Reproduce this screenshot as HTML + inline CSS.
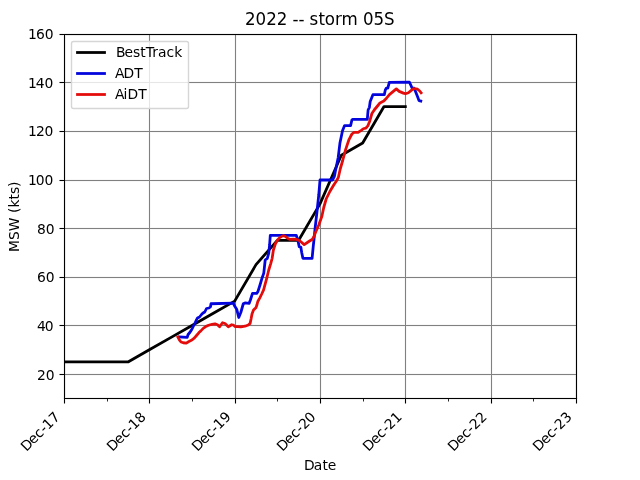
<!DOCTYPE html>
<html><head><meta charset="utf-8"><style>html,body{margin:0;padding:0;background:#fff;width:640px;height:480px;overflow:hidden}svg{display:block}</style></head>
<body><svg width="640" height="480" viewBox="0 0 640 480">
<rect x="0" y="0" width="640" height="480" fill="#ffffff"/>
<path d="M65.000 34.000H66.000V399.000H65.000ZM148.000 34.000H149.000V399.000H148.000ZM150.000 34.000H151.000V399.000H150.000ZM234.000 34.000H235.000V399.000H234.000ZM236.000 34.000H237.000V399.000H236.000ZM319.000 34.000H320.000V399.000H319.000ZM321.000 34.000H322.000V399.000H321.000ZM404.000 34.000H405.000V399.000H404.000ZM406.000 34.000H407.000V399.000H406.000ZM490.000 34.000H491.000V399.000H490.000ZM492.000 34.000H493.000V399.000H492.000ZM575.000 34.000H576.000V399.000H575.000ZM64.000 373.000H577.000V374.000H64.000ZM64.000 375.000H577.000V376.000H64.000ZM64.000 324.000H577.000V325.000H64.000ZM64.000 326.000H577.000V327.000H64.000ZM64.000 276.000H577.000V277.000H64.000ZM64.000 278.000H577.000V279.000H64.000ZM64.000 227.000H577.000V228.000H64.000ZM64.000 229.000H577.000V230.000H64.000ZM64.000 179.000H577.000V180.000H64.000ZM64.000 181.000H577.000V182.000H64.000ZM64.000 130.000H577.000V131.000H64.000ZM64.000 132.000H577.000V133.000H64.000ZM64.000 81.000H577.000V82.000H64.000ZM64.000 83.000H577.000V84.000H64.000ZM64.000 35.000H577.000V36.000H64.000Z" fill="#808080" fill-opacity="0.0555"/>
<path d="M64.000 34.000H65.000V399.000H64.000ZM149.000 34.000H150.000V399.000H149.000ZM235.000 34.000H236.000V399.000H235.000ZM320.000 34.000H321.000V399.000H320.000ZM405.000 34.000H406.000V399.000H405.000ZM491.000 34.000H492.000V399.000H491.000ZM576.000 34.000H577.000V399.000H576.000ZM64.000 374.000H577.000V375.000H64.000ZM64.000 325.000H577.000V326.000H64.000ZM64.000 277.000H577.000V278.000H64.000ZM64.000 228.000H577.000V229.000H64.000ZM64.000 180.000H577.000V181.000H64.000ZM64.000 131.000H577.000V132.000H64.000ZM64.000 82.000H577.000V83.000H64.000ZM64.000 34.000H577.000V35.000H64.000Z" fill="#808080"/>
<clipPath id="c"><rect x="64.0" y="33.6" width="512.0" height="364.79999999999995"/></clipPath>
<g clip-path="url(#c)">
<polyline points="42.67,361.92 64.00,361.92 128.00,361.92 149.33,349.76 170.67,337.60 192.00,325.44 213.33,313.28 234.67,301.12 256.00,264.64 277.33,240.32 298.67,240.32 320.00,203.84 341.33,155.20 362.67,143.04 384.00,106.56 405.33,106.56" fill="none" stroke="#000000" stroke-width="2.778" stroke-linecap="square" stroke-linejoin="round"/>
<polyline points="179.50,337.00 187.20,337.40 188.10,334.50 190.00,332.25 191.90,329.25 193.75,325.50 195.25,322.60 196.60,319.60 197.50,318.00 199.50,317.00 201.50,314.50 203.00,313.00 204.75,312.00 206.50,308.50 209.00,308.00 210.50,306.75 211.00,303.75 233.30,303.10 234.60,306.00 236.70,309.20 238.75,317.50 240.80,312.50 243.30,303.75 245.00,302.90 249.20,303.30 250.40,300.00 252.50,293.30 256.70,293.30 257.90,291.70 260.00,285.00 262.10,277.90 263.75,273.30 264.30,268.30 265.20,260.00 267.30,258.30 268.75,253.10 269.60,245.00 270.30,235.30 296.25,235.30 297.90,240.40 299.20,246.70 300.80,247.10 301.70,252.50 302.90,258.30 312.10,258.30 313.30,245.80 314.20,237.50 315.00,229.20 316.90,212.50 318.75,195.00 320.00,180.00 332.50,180.00 334.40,176.25 335.60,170.00 338.20,157.50 339.90,143.30 342.50,130.80 344.60,125.60 350.60,125.60 351.90,120.00 352.50,119.40 367.30,119.40 368.10,110.00 369.40,107.30 370.20,101.50 371.40,98.50 372.90,94.70 384.30,94.70 385.30,90.00 386.30,88.20 387.80,88.20 389.30,82.30 409.40,82.10 411.20,86.00 411.90,87.80 414.00,88.20 415.50,91.40 417.60,96.70 419.00,100.60 420.80,101.00" fill="none" stroke="#0305dc" stroke-width="2.778" stroke-linecap="square" stroke-linejoin="round"/>
<polyline points="177.90,337.10 179.50,340.10 181.00,342.00 183.25,342.75 186.25,343.10 188.10,342.00 190.00,340.90 192.25,339.75 194.50,337.90 196.75,335.25 199.00,332.60 201.25,330.40 203.50,328.10 205.75,326.60 208.00,325.50 210.25,324.75 212.00,324.40 215.00,323.90 217.50,324.75 219.60,326.80 222.50,322.70 225.00,323.50 228.30,326.80 231.70,324.75 233.30,325.00 235.00,326.50 237.50,326.70 240.80,326.90 245.00,326.20 248.30,325.00 250.10,323.40 251.10,318.80 252.00,314.00 253.50,310.10 255.90,307.70 256.80,305.30 257.80,301.50 259.70,298.10 261.60,294.25 263.60,289.90 266.70,278.30 268.75,270.00 270.80,263.30 272.10,258.50 273.40,250.00 275.50,243.50 277.50,240.00 280.00,237.40 283.25,235.60 285.50,236.50 287.50,238.20 290.00,239.40 293.10,239.10 296.25,239.40 298.75,240.30 300.00,241.00 304.20,244.60 309.20,241.25 312.50,239.20 314.20,235.80 315.80,231.70 318.75,225.00 321.90,216.25 323.75,207.50 326.25,198.75 330.00,191.25 333.75,185.00 336.25,181.25 338.40,177.30 340.30,168.75 342.70,160.50 345.60,149.60 348.75,140.20 351.90,134.00 354.00,132.40 358.10,132.40 361.25,130.30 363.30,128.75 365.90,128.20 368.00,125.60 369.60,121.50 371.90,113.50 374.40,109.75 377.50,106.00 380.00,102.90 383.75,101.00 386.25,98.50 389.40,94.60 392.10,92.40 396.30,88.90 399.20,91.40 403.40,93.10 405.50,93.80 408.40,92.80 411.90,89.90 414.00,88.50 417.60,89.20 419.70,91.00 421.10,92.80" fill="none" stroke="#e30c0b" stroke-width="2.778" stroke-linecap="square" stroke-linejoin="round"/>
</g>
<path d="M63.000 33.944H64.000V399.055H63.000ZM65.000 33.944H66.000V399.055H65.000ZM575.000 33.944H576.000V399.055H575.000ZM577.000 33.944H578.000V399.055H577.000ZM63.944 33.000H577.056V34.000H63.944ZM63.944 35.000H577.056V36.000H63.944ZM63.944 397.000H577.056V398.000H63.944ZM63.944 399.000H577.056V400.000H63.944ZM63.000 399.500H64.000V403.500H63.000ZM65.000 399.500H66.000V403.500H65.000ZM148.000 399.500H149.000V403.500H148.000ZM150.000 399.500H151.000V403.500H150.000ZM234.000 399.500H235.000V403.500H234.000ZM236.000 399.500H237.000V403.500H236.000ZM319.000 399.500H320.000V403.500H319.000ZM321.000 399.500H322.000V403.500H321.000ZM404.000 399.500H405.000V403.500H404.000ZM406.000 399.500H407.000V403.500H406.000ZM490.000 399.500H491.000V403.500H490.000ZM492.000 399.500H493.000V403.500H492.000ZM575.000 399.500H576.000V403.500H575.000ZM577.000 399.500H578.000V403.500H577.000ZM59.500 373.000H63.500V374.000H59.500ZM59.500 375.000H63.500V376.000H59.500ZM59.500 324.000H63.500V325.000H59.500ZM59.500 326.000H63.500V327.000H59.500ZM59.500 276.000H63.500V277.000H59.500ZM59.500 278.000H63.500V279.000H59.500ZM59.500 227.000H63.500V228.000H59.500ZM59.500 229.000H63.500V230.000H59.500ZM59.500 179.000H63.500V180.000H59.500ZM59.500 181.000H63.500V182.000H59.500ZM59.500 130.000H63.500V131.000H59.500ZM59.500 132.000H63.500V133.000H59.500ZM59.500 81.000H63.500V82.000H59.500ZM59.500 83.000H63.500V84.000H59.500ZM59.500 33.000H63.500V34.000H59.500ZM59.500 35.000H63.500V36.000H59.500Z" fill="#000" fill-opacity="0.0555"/>
<path d="M64.000 33.944H65.000V399.055H64.000ZM576.000 33.944H577.000V399.055H576.000ZM63.944 34.000H577.056V35.000H63.944ZM63.944 398.000H577.056V399.000H63.944ZM64.000 398.500H65.000V403.500H64.000ZM149.000 398.500H150.000V403.500H149.000ZM235.000 398.500H236.000V403.500H235.000ZM320.000 398.500H321.000V403.500H320.000ZM405.000 398.500H406.000V403.500H405.000ZM491.000 398.500H492.000V403.500H491.000ZM576.000 398.500H577.000V403.500H576.000ZM59.500 374.000H64.500V375.000H59.500ZM59.500 325.000H64.500V326.000H59.500ZM59.500 277.000H64.500V278.000H59.500ZM59.500 228.000H64.500V229.000H59.500ZM59.500 180.000H64.500V181.000H59.500ZM59.500 131.000H64.500V132.000H59.500ZM59.500 82.000H64.500V83.000H59.500ZM59.500 34.000H64.500V35.000H59.500Z" fill="#000"/>
<path d="M107.000 399.000H108.000V401.500H107.000ZM192.000 399.000H193.000V401.500H192.000ZM277.000 399.000H278.000V401.500H277.000ZM363.000 399.000H364.000V401.500H363.000ZM448.000 399.000H449.000V401.500H448.000ZM533.000 399.000H534.000V401.500H533.000Z" fill="#000" fill-opacity="0.833"/>
<text transform="translate(54.64,379.58)" x="-17.66 -8.84" y="0" font-family="DejaVu Sans, Liberation Sans, sans-serif" font-size="13.889" fill="#000">20</text>
<text transform="translate(53.64,330.50)" x="-16.66 -8.84" y="0" font-family="DejaVu Sans, Liberation Sans, sans-serif" font-size="13.889" fill="#000">40</text>
<text transform="translate(54.60,281.55)" x="-17.66 -8.84" y="0" font-family="DejaVu Sans, Liberation Sans, sans-serif" font-size="13.889" fill="#000">60</text>
<text transform="translate(54.61,234.49)" x="-17.66 -8.84" y="0" font-family="DejaVu Sans, Liberation Sans, sans-serif" font-size="13.889" fill="#000">80</text>
<text transform="translate(53.37,184.81)" x="-25.48 -17.67 -8.84" y="0" font-family="DejaVu Sans, Liberation Sans, sans-serif" font-size="13.889" fill="#000">100</text>
<text transform="translate(53.66,135.51)" x="-25.73 -17.67 -9.09" y="0" font-family="DejaVu Sans, Liberation Sans, sans-serif" font-size="13.889" fill="#000">120</text>
<text transform="translate(53.62,87.59)" x="-25.73 -17.92 -9.09" y="0" font-family="DejaVu Sans, Liberation Sans, sans-serif" font-size="13.889" fill="#000">140</text>
<text transform="translate(53.67,38.64)" x="-25.73 -17.67 -8.84" y="0" font-family="DejaVu Sans, Liberation Sans, sans-serif" font-size="13.889" fill="#000">160</text>
<text transform="translate(60.88,417.47) rotate(-45)" x="-48.77 -39.09 -30.55 -22.67 -17.92 -9.09" y="0" font-family="DejaVu Sans, Liberation Sans, sans-serif" font-size="13.889" fill="#000">Dec-17</text>
<text transform="translate(146.71,417.65) rotate(-45)" x="-48.52 -38.84 -30.30 -22.42 -17.67 -8.84" y="0" font-family="DejaVu Sans, Liberation Sans, sans-serif" font-size="13.889" fill="#000">Dec-18</text>
<text transform="translate(231.73,417.60) rotate(-45)" x="-48.52 -38.84 -30.30 -22.67 -17.67 -8.84" y="0" font-family="DejaVu Sans, Liberation Sans, sans-serif" font-size="13.889" fill="#000">Dec-19</text>
<text transform="translate(316.76,417.59) rotate(-45)" x="-48.52 -38.84 -30.30 -22.67 -17.42 -9.09" y="0" font-family="DejaVu Sans, Liberation Sans, sans-serif" font-size="13.889" fill="#000">Dec-20</text>
<text transform="translate(402.95,417.51) rotate(-45)" x="-48.77 -38.84 -30.55 -22.42 -17.92 -9.09" y="0" font-family="DejaVu Sans, Liberation Sans, sans-serif" font-size="13.889" fill="#000">Dec-21</text>
<text transform="translate(487.96,417.49) rotate(-45)" x="-48.77 -38.84 -30.55 -23.17 -17.92 -9.09" y="0" font-family="DejaVu Sans, Liberation Sans, sans-serif" font-size="13.889" fill="#000">Dec-22</text>
<text transform="translate(572.96,417.49) rotate(-45)" x="-48.77 -38.84 -30.55 -23.17 -17.92 -9.09" y="0" font-family="DejaVu Sans, Liberation Sans, sans-serif" font-size="13.889" fill="#000">Dec-23</text>
<text transform="translate(320.01,24.51) scale(1.0,1.06)" x="-75.09 -64.51 -53.66 -43.32 -32.72 -27.43 -21.43 -15.42 -10.63 -1.46 4.83 15.02 21.57 38.03 43.07 53.42 64.01" y="0" font-family="DejaVu Sans, Liberation Sans, sans-serif" font-size="16.667" fill="#000">2022 -- storm 05S</text>
<text transform="translate(319.99,469.58)" x="-16.09 -6.16 2.59 7.79" y="0" font-family="DejaVu Sans, Liberation Sans, sans-serif" font-size="13.889" fill="#000">Date</text>
<text transform="translate(18.54,216.77) rotate(-90)" x="-35.23 -23.26 -14.46 -0.74 3.68 9.34 17.37 22.80 29.79" y="0" font-family="DejaVu Sans, Liberation Sans, sans-serif" font-size="13.889" fill="#000">MSW (kts)</text>
<rect x="71.5" y="41.5" width="117.0" height="67.0" rx="2.0" ry="2.0" fill="#ffffff" fill-opacity="0.8" stroke="#d6d6d6" stroke-width="1.389"/>
<path d="M77.5 52.5H104.5" stroke="#000000" stroke-width="2.778" stroke-linecap="square"/>
<text transform="translate(115.16,56.74)" x="0.75 9.27 17.80 25.03 30.47 37.16 42.86 51.36 58.98" y="0" font-family="DejaVu Sans, Liberation Sans, sans-serif" font-size="13.889" fill="#000">BestTrack</text>
<path d="M77.5 73.5H104.5" stroke="#0305dc" stroke-width="2.778" stroke-linecap="square"/>
<text transform="translate(114.10,77.76)" x="1.00 9.48 20.17" y="0" font-family="DejaVu Sans, Liberation Sans, sans-serif" font-size="13.889" fill="#000">ADT</text>
<path d="M77.5 94.5H104.5" stroke="#e30c0b" stroke-width="2.778" stroke-linecap="square"/>
<text transform="translate(114.15,98.57)" x="0.75 9.48 13.34 24.02" y="0" font-family="DejaVu Sans, Liberation Sans, sans-serif" font-size="13.889" fill="#000">AiDT</text>
</svg></body></html>
